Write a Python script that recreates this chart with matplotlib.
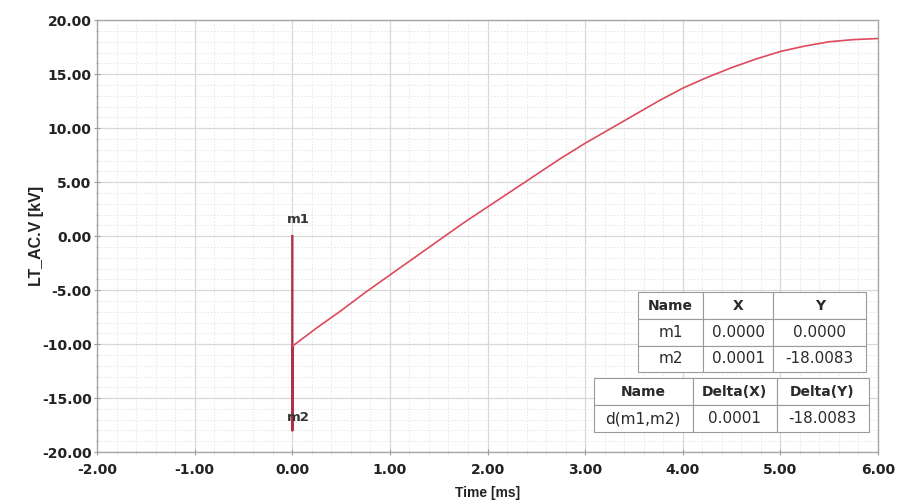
import matplotlib
matplotlib.use("Agg")
import matplotlib.pyplot as plt
from matplotlib.ticker import MultipleLocator, FormatStrFormatter

plt.rcParams['font.family'] = ['DejaVu Sans']

# Waveform samples: time [ms], voltage [kV]
time_ms = [0.0, 0.0001, 0.0002, 0.25, 0.5, 0.75, 1.0, 1.25, 1.5, 1.75, 2.0, 2.25,
           2.5, 2.75, 3.0, 3.25, 3.5, 3.75, 4.0, 4.25, 4.5, 4.75, 5.0, 5.25,
           5.5, 5.75, 6.0]
voltage_kv = [0.0, -18.0083, -10.2, -8.5, -6.9, -5.2, -3.6, -2.0, -0.4, 1.2, 2.7, 4.2,
              5.7, 7.2, 8.6, 9.9, 11.2, 12.5, 13.7, 14.7, 15.6, 16.4, 17.1, 17.6,
              18.0, 18.2, 18.3]

# Markers
marker_names = ["m1", "m2"]
marker_x = [0.0000, 0.0001]
marker_y = [0.0000, -18.0083]

# Marker tables
table1_header = ["Name", "X", "Y"]
table1_rows = [["m1", "0.0000", "0.0000"],
               ["m2", "0.0001", "-18.0083"]]
table2_header = ["Name", "Delta(X)", "Delta(Y)"]
table2_rows = [["d(m1,m2)", "0.0001", "-18.0083"]]

x_ticks = [-2, -1, 0, 1, 2, 3, 4, 5, 6]
y_ticks = [-20, -15, -10, -5, 0, 5, 10, 15, 20]

fig = plt.figure(figsize=(8.99, 5.04), dpi=100)
ax = fig.add_axes([0.108, 0.103, 0.8686, 0.857])

text_col = "#222222"
grid_col = "#d8d8d8"

ax.plot(time_ms[:3], voltage_kv[:3], color="#b03048", lw=1.7, zorder=3)
ax.plot(time_ms[2:], voltage_kv[2:], color="#dd4a5c", lw=1.2, zorder=3)

marker_offsets = [(-4, 7), (-4, 5)]
for name, mx, my, off in zip(marker_names, marker_x, marker_y, marker_offsets):
    ax.annotate(name, (mx, my), xytext=off, textcoords="offset points",
                fontsize=9.5, fontweight="bold", color="#333333",
                ha="left", va="bottom", zorder=4)

ax.set_xlim(-2, 6)
ax.set_ylim(-20, 20)
ax.set_xticks(x_ticks)
ax.set_yticks(y_ticks)
ax.xaxis.set_major_formatter(FormatStrFormatter("%.2f"))
ax.yaxis.set_major_formatter(FormatStrFormatter("%.2f"))
ax.xaxis.set_minor_locator(MultipleLocator(0.2))
ax.yaxis.set_minor_locator(MultipleLocator(1.0))

ax.grid(which="major", color=grid_col, lw=0.9)
ax.grid(which="minor", color="#e4e4e4", lw=0.6, ls=(0, (2, 2)))
ax.set_axisbelow(True)

ax.tick_params(which="major", length=4, direction="inout", color="#999999",
               labelsize=10, labelcolor=text_col)
ax.tick_params(axis="y", which="major", pad=2)
ax.tick_params(axis="x", which="major", pad=6)
ax.tick_params(which="minor", length=2, direction="inout", color="#aaaaaa")
for lbl in ax.get_xticklabels() + ax.get_yticklabels():
    lbl.set_fontweight("bold")

for s in ax.spines.values():
    s.set_color("#a8a8a8")
    s.set_linewidth(1.0)

ax.set_xlabel("Time [ms]", fontsize=10, fontweight="bold", color=text_col,
              labelpad=6, family="Liberation Sans")
ax.set_ylabel("LT_AC.V [kV]", fontsize=11.5, fontweight="bold", color=text_col,
              family="Liberation Sans")
ax.yaxis.set_label_coords(-0.068, 0.5)


def draw_table(header, rows, bbox, col_widths):
    cells = [header] + rows
    tbl = ax.table(cellText=cells, colWidths=col_widths, bbox=bbox,
                   cellLoc="center", zorder=5)
    tbl.auto_set_font_size(False)
    for (r, c), cell in tbl.get_celld().items():
        cell.set_edgecolor("#9a9a9a")
        cell.set_linewidth(0.8)
        cell.set_facecolor("white")
        cell.PAD = 0.02
        txt = cell.get_text()
        txt.set_color("#2a2a2a")
        if r == 0:
            txt.set_fontsize(10)
            txt.set_fontweight("bold")
        else:
            txt.set_fontsize(11)
    return tbl


draw_table(table1_header, table1_rows, [0.693, 0.185, 0.292, 0.185],
           [0.285, 0.307, 0.408])
draw_table(table2_header, table2_rows, [0.636, 0.046, 0.352, 0.125],
           [0.36, 0.305, 0.335])

fig.savefig("out.png", dpi=100, facecolor="white")
